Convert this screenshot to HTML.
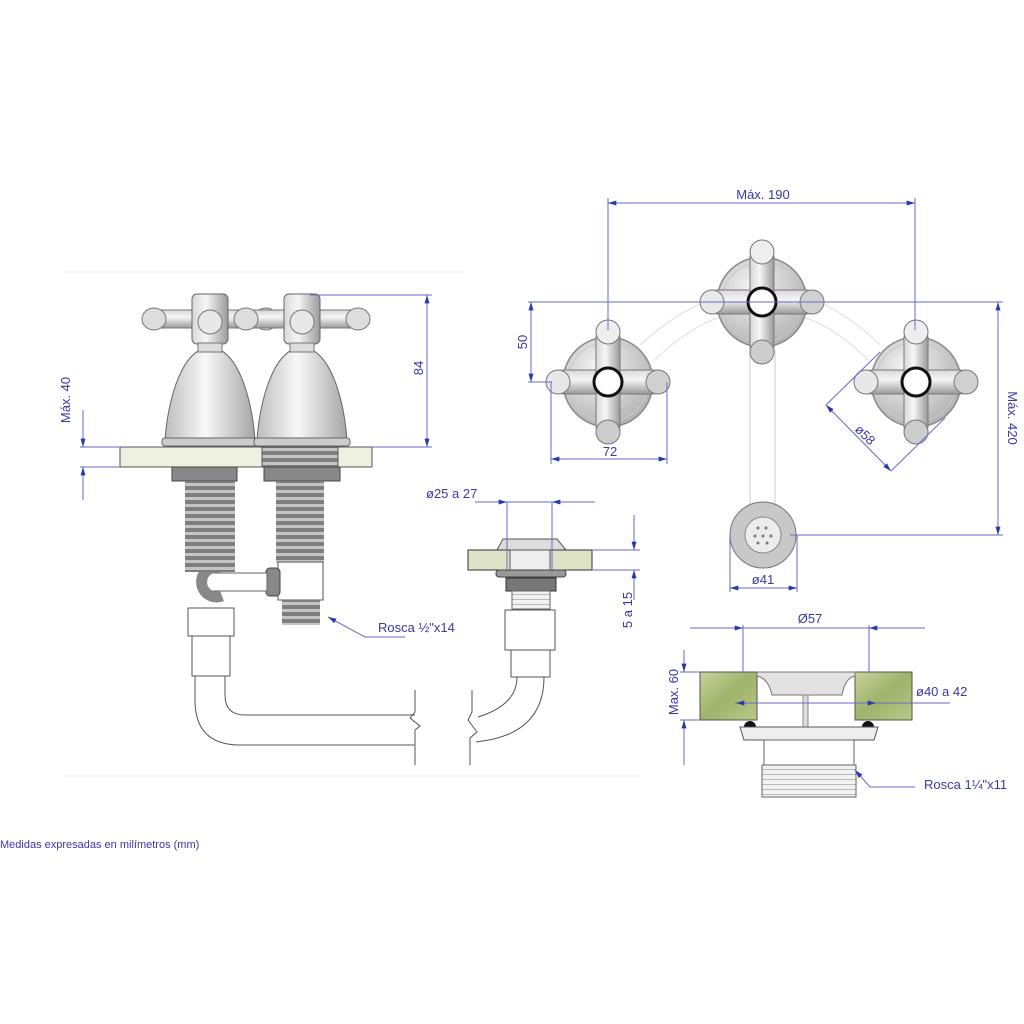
<!DOCTYPE html>
<html><head><meta charset="utf-8"><style>
html,body{margin:0;padding:0;background:#fff}
svg{display:block}
text{font-family:"Liberation Sans",sans-serif;fill:#3838a8}
</style></head><body>
<svg width="1024" height="1024" viewBox="0 0 1024 1024" xmlns="http://www.w3.org/2000/svg">
<defs>
<radialGradient id="disc" cx="0.4" cy="0.35" r="0.7"><stop offset="0" stop-color="#f6f6f6"/><stop offset="1" stop-color="#b0b0b0"/></radialGradient>
<linearGradient id="arm" x1="0" y1="0" x2="0" y2="1"><stop offset="0" stop-color="#d8d8d8"/><stop offset="0.4" stop-color="#f6f6f6"/><stop offset="1" stop-color="#9a9a9a"/></linearGradient>
<linearGradient id="armv" x1="0" y1="0" x2="1" y2="0"><stop offset="0" stop-color="#d8d8d8"/><stop offset="0.4" stop-color="#f6f6f6"/><stop offset="1" stop-color="#9a9a9a"/></linearGradient>
<linearGradient id="bell" x1="0" y1="0" x2="1" y2="0"><stop offset="0" stop-color="#bdbdbd"/><stop offset="0.45" stop-color="#f8f8f8"/><stop offset="1" stop-color="#a5a5a5"/></linearGradient>
<linearGradient id="stone" x1="0" y1="0" x2="1" y2="1"><stop offset="0" stop-color="#c6d39a"/><stop offset="0.5" stop-color="#9fb36a"/><stop offset="1" stop-color="#b9c98a"/></linearGradient>
<pattern id="thr" width="6" height="7" patternUnits="userSpaceOnUse"><rect width="6" height="7" fill="#7e7e7e"/><rect y="0" width="6" height="3" fill="#c4c4c4"/></pattern>
<pattern id="thr2" width="4" height="5" patternUnits="userSpaceOnUse"><rect width="4" height="5" fill="#f2f2f2"/><line x1="0" y1="4.5" x2="4" y2="4.5" stroke="#bbb"/></pattern>
<marker id="ar" viewBox="0 0 10 6" refX="10" refY="3" markerWidth="12" markerHeight="5" orient="auto-start-reverse" markerUnits="userSpaceOnUse"><path d="M0,0 L10,3 L0,6z" fill="#2a3aa8"/></marker>
<g id="knob">
<circle r="45" fill="url(#disc)" stroke="#8a8a8a" stroke-width="1.5"/>
<circle r="40" fill="none" stroke="#c8c8c8"/>
<rect x="-56" y="-12" width="112" height="24" rx="12" fill="url(#arm)" stroke="#777"/>
<rect x="-12" y="-56" width="24" height="112" rx="12" fill="url(#armv)" stroke="#777"/>
<circle cx="-50" r="12" fill="#e8e8e8" stroke="#777"/><circle cx="50" r="12" fill="#d0d0d0" stroke="#777"/>
<circle cy="-50" r="12" fill="#eee" stroke="#777"/><circle cy="50" r="12" fill="#ccc" stroke="#777"/>
<circle r="14" fill="#fff" stroke="#111" stroke-width="3"/>
</g>
<g id="valve">
<path d="M-45,440 C-42,400 -30,360 -10,350 L10,350 C30,360 42,400 45,440 Z" fill="url(#bell)" stroke="#666"/>
<rect x="-48" y="438" width="96" height="8" rx="3" fill="#ccc" stroke="#666"/>
<rect x="-62" y="310" width="124" height="18" rx="9" fill="url(#arm)" stroke="#777"/>
<ellipse cx="-56" cy="319" rx="12" ry="11" fill="#ddd" stroke="#777"/>
<ellipse cx="56" cy="319" rx="12" ry="11" fill="#ddd" stroke="#777"/>
<rect x="-18" y="294" width="36" height="50" rx="5" fill="url(#armv)" stroke="#666"/>
<rect x="-12" y="343" width="24" height="9" fill="#ddd" stroke="#777"/>
<circle cy="322" r="12" fill="#e8e8e8" stroke="#777"/>
</g>
</defs>

<line x1="65" y1="272" x2="465" y2="272" stroke="#e6e6e6"/>
<line x1="65" y1="776" x2="640" y2="776" stroke="#e6e6e6"/>

<rect x="120" y="447" width="252" height="20" fill="#eef0e0" stroke="#555"/>
<rect x="262" y="447" width="76" height="20" fill="url(#thr)" stroke="#555"/>
<rect x="172" y="467" width="65" height="14" fill="#888" stroke="#444"/>
<rect x="264" y="467" width="76" height="14" fill="#888" stroke="#444"/>
<rect x="185" y="481" width="50" height="82" fill="url(#thr)"/>
<rect x="276" y="481" width="48" height="82" fill="url(#thr)"/>
<rect x="278" y="562" width="45" height="38" fill="#fff" stroke="#555"/>
<rect x="282" y="600" width="38" height="25" fill="url(#thr)"/>
<rect x="266" y="568" width="14" height="28" rx="4" fill="#888" stroke="#444"/>
<rect x="205" y="573" width="62" height="18" fill="#fff" stroke="#666"/>
<path d="M222,568 a15,15 0 1 0 0,28" fill="none" stroke="#888" stroke-width="11"/>
<rect x="185" y="560" width="50" height="12" fill="url(#thr)"/>
<rect x="188" y="608" width="46" height="28" fill="#fff" stroke="#555"/>
<rect x="192" y="636" width="38" height="40" fill="#fff" stroke="#555"/>
<path d="M195,676 L195,700 Q195,745 240,745 L415,745 M225,676 L225,695 Q225,715 245,715 L415,715" fill="none" stroke="#555"/>
<path d="M415,690 L415,712 L410,718 L420,726 L415,730 L415,765" fill="none" stroke="#555"/>
<use href="#valve" x="210" y="0"/>
<use href="#valve" x="302" y="0"/>

<g stroke="#6a6ac8" stroke-width="1" fill="none">
<line x1="310" y1="295" x2="432" y2="295"/>
<line x1="372" y1="447" x2="432" y2="447"/>
<line x1="427" y1="295" x2="427" y2="447" marker-start="url(#ar)" marker-end="url(#ar)"/>
<line x1="80" y1="447" x2="120" y2="447"/>
<line x1="80" y1="467" x2="120" y2="467"/>
<line x1="83" y1="410" x2="83" y2="447" marker-end="url(#ar)"/>
<line x1="83" y1="500" x2="83" y2="467" marker-end="url(#ar)"/>
<path d="M405,637 L365,637 L328,617" marker-end="url(#ar)"/>
</g>
<text font-size="13" transform="translate(423,368) rotate(-90)" text-anchor="middle">84</text>
<text font-size="13" transform="translate(70,400) rotate(-90)" text-anchor="middle">Máx. 40</text>
<text x="378" y="632" font-size="13">Rosca ½"x14</text>

<path d="M497,550 L503,539 L557,539 L566,550 Z" fill="#ddd" stroke="#555"/>
<rect x="468" y="550" width="124" height="20" fill="#dfe3c6" stroke="#333"/>
<rect x="510" y="550" width="40" height="20" fill="#eee" stroke="#555"/>
<rect x="496" y="570" width="70" height="7" rx="3" fill="#999" stroke="#444"/>
<rect x="506" y="578" width="50" height="13" fill="#777" stroke="#333"/>
<rect x="512" y="591" width="38" height="18" fill="url(#thr2)" stroke="#666"/>
<rect x="505" y="610" width="50" height="40" fill="#fff" stroke="#555"/>
<rect x="511" y="650" width="39" height="27" fill="#fff" stroke="#555"/>
<path d="M517,677 Q517,705 478,717 M544,677 Q544,735 476,742" fill="none" stroke="#555"/>
<path d="M472,690 L472,712 L468,720 L477,732 L470,738 L470,765" fill="none" stroke="#555"/>
<g stroke="#6a6ac8" fill="none">
<line x1="475" y1="502" x2="595" y2="502"/>
<line x1="507" y1="502" x2="507" y2="572"/>
<line x1="552" y1="502" x2="552" y2="572"/>
<line x1="490" y1="502" x2="507" y2="502" marker-end="url(#ar)"/>
<line x1="570" y1="502" x2="552" y2="502" marker-end="url(#ar)"/>
<line x1="592" y1="550" x2="640" y2="550"/>
<line x1="592" y1="570" x2="640" y2="570"/>
<line x1="634" y1="515" x2="634" y2="550" marker-end="url(#ar)"/>
<line x1="634" y1="600" x2="634" y2="570" marker-end="url(#ar)"/>
</g>
<text x="426" y="498" font-size="13">ø25 a 27</text>
<text font-size="13" transform="translate(632,610) rotate(-90)" text-anchor="middle">5 a 15</text>

<path d="M640,345 Q700,290 762,290 Q824,290 880,345" fill="none" stroke="#ddd"/>
<path d="M655,360 Q705,310 762,310 Q819,310 868,360" fill="none" stroke="#ddd"/>
<line x1="750" y1="350" x2="750" y2="508" stroke="#ccc"/>
<line x1="775" y1="350" x2="775" y2="508" stroke="#ccc"/>
<use href="#knob" x="608" y="382"/>
<use href="#knob" x="762" y="302"/>
<use href="#knob" x="916" y="382"/>
<circle cx="763" cy="535" r="33" fill="#c8c8c8" stroke="#777"/>
<circle cx="763" cy="535" r="18" fill="#ececec" stroke="#888"/>
<g fill="#777"><circle cx="758" cy="528" r="1.5"/><circle cx="766" cy="528" r="1.5"/><circle cx="755" cy="536" r="1.5"/><circle cx="763" cy="536" r="1.5"/><circle cx="771" cy="536" r="1.5"/><circle cx="758" cy="543" r="1.5"/><circle cx="767" cy="543" r="1.5"/></g>
<g stroke="#6a6ac8" fill="none">
<line x1="608" y1="198" x2="608" y2="330"/>
<line x1="915" y1="198" x2="915" y2="330"/>
<line x1="608" y1="203" x2="915" y2="203" marker-start="url(#ar)" marker-end="url(#ar)"/>
<line x1="528" y1="302" x2="1003" y2="302"/>
<line x1="528" y1="382" x2="552" y2="382"/>
<line x1="531" y1="302" x2="531" y2="382" marker-start="url(#ar)" marker-end="url(#ar)"/>
<line x1="551" y1="382" x2="551" y2="464"/>
<line x1="667" y1="382" x2="667" y2="464"/>
<line x1="551" y1="459" x2="667" y2="459" marker-start="url(#ar)" marker-end="url(#ar)"/>
<line x1="826" y1="405" x2="891" y2="471" marker-start="url(#ar)" marker-end="url(#ar)"/>
<line x1="826" y1="405" x2="880" y2="352"/>
<line x1="891" y1="471" x2="945" y2="418"/>
<line x1="790" y1="535" x2="1003" y2="535"/>
<line x1="998" y1="302" x2="998" y2="535" marker-start="url(#ar)" marker-end="url(#ar)"/>
<line x1="730" y1="535" x2="730" y2="592"/>
<line x1="797" y1="535" x2="797" y2="592"/>
<line x1="730" y1="588" x2="797" y2="588" marker-start="url(#ar)" marker-end="url(#ar)"/>
</g>
<text x="763" y="199" font-size="13" text-anchor="middle">Máx. 190</text>
<text font-size="13" transform="translate(527,342) rotate(-90)" text-anchor="middle">50</text>
<text x="610" y="456" font-size="13" text-anchor="middle">72</text>
<text font-size="13" transform="translate(862,438) rotate(45)" text-anchor="middle">ø58</text>
<text font-size="13" transform="translate(1008,418) rotate(90)" text-anchor="middle">Máx. 420</text>
<text x="763" y="584" font-size="13" text-anchor="middle">ø41</text>

<rect x="700" y="672" width="57" height="48" fill="url(#stone)" stroke="#555"/>
<rect x="855" y="672" width="57" height="48" fill="url(#stone)" stroke="#555"/>
<path d="M757,672 L855,672 L855,676 Q845,678 842,695 L772,695 Q768,678 757,676 Z" fill="#e2e2e2" stroke="#777"/>
<rect x="803" y="695" width="5" height="32" fill="#ddd" stroke="#888"/>
<path d="M744,727 a6,6 0 0 1 12,0 Z M862,727 a6,6 0 0 1 12,0 Z" fill="#111"/>
<path d="M740,727 L878,727 L874,740 L744,740 Z" fill="#eee" stroke="#555"/>
<rect x="764" y="740" width="90" height="25" fill="#fff" stroke="#666"/>
<rect x="762" y="765" width="94" height="32" fill="url(#thr2)" stroke="#666"/>
<g stroke="#6a6ac8" fill="none">
<line x1="690" y1="628" x2="925" y2="628"/>
<line x1="743" y1="625" x2="743" y2="672"/>
<line x1="869" y1="625" x2="869" y2="672"/>
<line x1="718" y1="628" x2="743" y2="628" marker-end="url(#ar)"/>
<line x1="895" y1="628" x2="869" y2="628" marker-end="url(#ar)"/>
<line x1="680" y1="672" x2="700" y2="672"/>
<line x1="680" y1="720" x2="700" y2="720"/>
<line x1="684" y1="650" x2="684" y2="672" marker-end="url(#ar)"/>
<line x1="684" y1="765" x2="684" y2="720" marker-end="url(#ar)"/>
<line x1="735" y1="703" x2="950" y2="703"/>
<line x1="760" y1="703" x2="736" y2="703" marker-end="url(#ar)"/>
<line x1="835" y1="703" x2="876" y2="703" marker-end="url(#ar)"/>
<path d="M915,787 L870,787 L855,770" marker-end="url(#ar)"/>
</g>
<text x="810" y="623" font-size="13" text-anchor="middle">Ø57</text>
<text font-size="13" transform="translate(678,692) rotate(-90)" text-anchor="middle">Max. 60</text>
<text x="916" y="696" font-size="13">ø40 a 42</text>
<text x="924" y="789" font-size="13">Rosca 1¼"x11</text>

<text x="0" y="848" font-size="11">Medidas expresadas en milímetros (mm)</text>
</svg>
</body></html>
